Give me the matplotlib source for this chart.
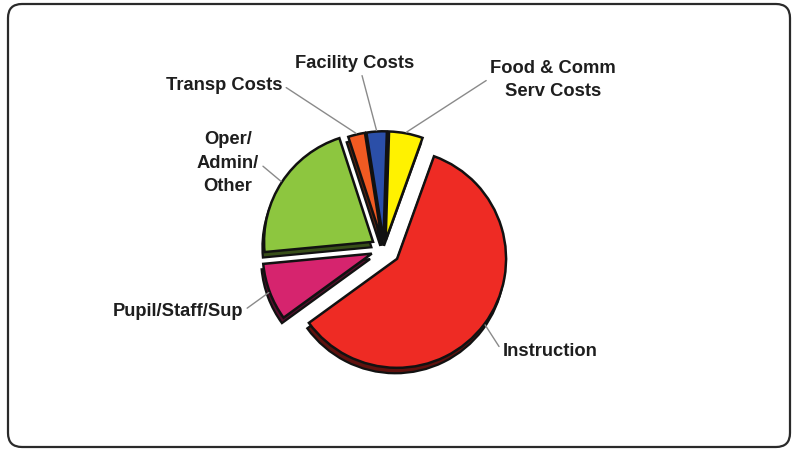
import matplotlib
matplotlib.use("Agg")
import numpy as np
import matplotlib.pyplot as plt
from matplotlib.patches import FancyBboxPatch
from matplotlib.transforms import IdentityTransform
from matplotlib.colors import to_rgb

plt.rcParams["font.family"] = ["Liberation Sans", "DejaVu Sans"]

# spending shares (%), drawn clockwise from the top
categories = ["Transp Costs", "Facility Costs", "Food & Comm\nServ Costs",
              "Instruction", "Pupil/Staff/Sup", "Oper/\nAdmin/\nOther"]
shares = [2.5, 3.0, 5.0, 59.5, 8.5, 21.5]
colors = ["#F15A22", "#2B4FA8", "#FFF200", "#EE2B24", "#D6246E", "#8DC63F"]
explode = [0.08, 0.08, 0.08, 0.15, 0.12, 0.12]

# label centres in pixels (from the top-left) and where the leader leaves the text
label_pos = [(224, 85), (355, 63), (553, 80), (550, 352), (178, 311), (228, 163)]
label_rel = [(1, 0.5), (0.55, 0), (0, 0.55), (0, 0.5), (1, 0.5), (1, 0.5)]

W, H = 793, 450
fig = plt.figure(figsize=(W / 100, H / 100), dpi=100)

# rounded card border
fig.patches.append(FancyBboxPatch((8, 3), 782, 443,
                                  boxstyle="round,pad=0,rounding_size=14",
                                  transform=IdentityTransform(),
                                  facecolor="none", edgecolor="#2a2a2a",
                                  linewidth=1.6, zorder=5))

# pie centre at (384, 249) px, radius 109 px
cx, cy, rpx = 384, 249, 109
half = 150
ax = fig.add_axes([(cx - half) / W, (H - cy - half) / H, 2 * half / W, 2 * half / H])
ax.patch.set_alpha(0)

# darker copy shifted down gives the slab depth
dark = [tuple(c * 0.4 for c in to_rgb(col)) for col in colors]
ax.pie(shares, explode=explode, colors=dark, startangle=108, counterclock=False,
       center=(-0.015, -0.05),
       wedgeprops=dict(edgecolor="#111111", linewidth=1.6))
wedges, _ = ax.pie(shares, explode=explode, colors=colors, startangle=108,
                   counterclock=False,
                   wedgeprops=dict(edgecolor="#111111", linewidth=1.8))

lim = half / rpx
ax.set_xlim(-lim, lim)
ax.set_ylim(-lim, lim)
ax.set_aspect("equal")
ax.axis("off")

for w, name, (px, py), rel in zip(wedges, categories, label_pos, label_rel):
    mid = np.deg2rad((w.theta1 + w.theta2) / 2)
    x0, y0 = w.center
    xy = (x0 + w.r * 1.01 * np.cos(mid), y0 + w.r * 1.01 * np.sin(mid))
    ax.annotate(name, xy=xy, xycoords="data",
                xytext=(px / W, 1 - py / H), textcoords="figure fraction",
                ha="center", va="center", multialignment="center",
                fontsize=13.2, fontweight="bold", color="#1e1e1e",
                linespacing=1.48, annotation_clip=False,
                arrowprops=dict(arrowstyle="-", color="#8a8a8a", lw=1.0,
                                relpos=rel, shrinkA=1, shrinkB=0))

fig.savefig("out.png", dpi=100)
